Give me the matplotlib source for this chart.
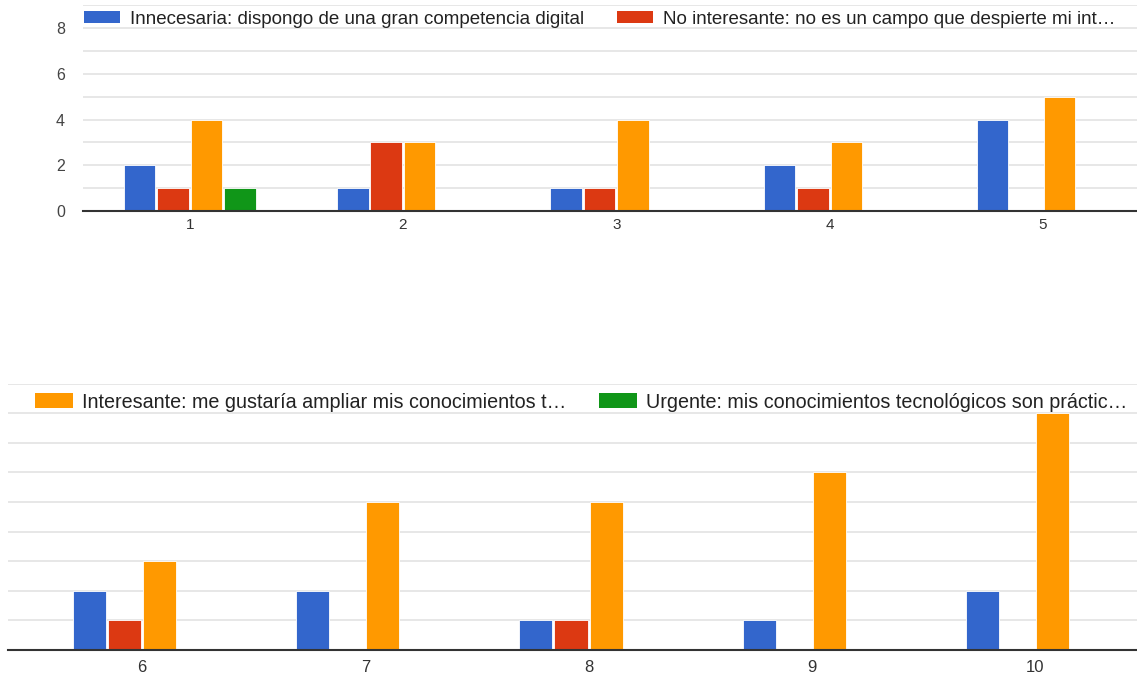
import matplotlib
matplotlib.use("Agg")
import matplotlib.pyplot as plt
import numpy as np

plt.rcParams['font.family'] = ['Liberation Sans', 'DejaVu Sans']

# Responses per rating (1-10) for each answer option
ratings = [1, 2, 3, 4, 5, 6, 7, 8, 9, 10]
series_names = [
    "Innecesaria: dispongo de una gran competencia digital",
    "No interesante: no es un campo que despierte mi int\u2026",
    "Interesante: me gustaría ampliar mis conocimientos t\u2026",
    "Urgente: mis conocimientos tecnológicos son práctic\u2026",
]
innecesaria = [2, 1, 1, 2, 4, 2, 2, 1, 1, 2]
no_interesante = [1, 3, 1, 1, 0, 1, 0, 1, 0, 0]
interesante = [4, 3, 4, 3, 5, 3, 5, 5, 6, 8]
urgente = [1, 0, 0, 0, 0, 0, 0, 0, 0, 0]

colors = ["#3366CC", "#DC3912", "#FF9900", "#109618"]
series = [innecesaria, no_interesante, interesante, urgente]

W, H = 1137, 676
fig = plt.figure(figsize=(W / 100, H / 100), dpi=100)

# panel geometry in pixels: (left, right, baseline, unit height, xlim)
panels = [
    dict(idx=slice(0, 5), left=83, right=1149.5, base=211, unit=22.875,
         xlim=(0.5, 5.5), yticklabels=True, xfs=11, xpad=5),
    dict(idx=slice(5, 10), left=8, right=1146.5, base=650, unit=29.6,
         xlim=(5.399, 10.5), yticklabels=False, xfs=12, xpad=7),
]

slot = 0.157
barw = 0.148
handles = []
axes = []
for p in panels:
    top_px = p['base'] - 9 * p['unit']
    ax = fig.add_axes([p['left'] / W, (H - p['base']) / H,
                       (p['right'] - p['left']) / W, (p['base'] - top_px) / H])
    axes.append(ax)
    cats = np.array(ratings[p['idx']])
    hs = []
    for k, (vals, col) in enumerate(zip(series, colors)):
        v = np.array(vals[p['idx']])
        x = cats + (k - 1.5) * slot
        m = v > 0
        ax.bar(x[m], v[m], width=barw, color=col, edgecolor='white',
               linewidth=0.6, zorder=3, label=series_names[k])
        hs.append(matplotlib.patches.Patch(facecolor=col, edgecolor='none'))
    handles.append(hs)
    ax.set_xlim(*p['xlim'])
    ax.set_ylim(0, 9)
    ax.set_yticks(range(0, 10))
    if p['yticklabels']:
        ax.set_yticklabels([str(i) if i % 2 == 0 and i <= 8 else "" for i in range(10)])
    else:
        ax.set_yticklabels([])
    ax.tick_params(axis='y', length=0, pad=13, labelsize=11.5, labelcolor='#444444')
    ax.set_xticks(cats)
    ax.set_xticklabels([str(c) for c in cats])
    ax.tick_params(axis='x', length=0, pad=p['xpad'], labelsize=p['xfs'],
                   labelcolor='#333333')
    ax.grid(axis='y', color='#e3e3e3', linewidth=1.2, zorder=0)
    for s in ['top', 'right', 'left']:
        ax.spines[s].set_visible(False)
    ax.spines['bottom'].set_color('#333333')
    ax.spines['bottom'].set_linewidth(1.5)
    ax.spines['bottom'].set_zorder(4)
    ax.set_facecolor('none')

axes[0].legend(handles[0][:2], series_names[:2], ncol=2, frameon=False,
               loc='center left', bbox_to_anchor=(84 / W, 1 - 19 / H),
               bbox_transform=fig.transFigure, fontsize=13.5,
               handlelength=1.92, handleheight=0.64, handletextpad=0.53,
               columnspacing=1.76, borderaxespad=0, borderpad=0,
               labelcolor='#222222')
axes[1].legend(handles[1][2:], series_names[2:], ncol=2, frameon=False,
               loc='center left', bbox_to_anchor=(35 / W, 1 - 402 / H),
               bbox_transform=fig.transFigure, fontsize=14.25,
               handlelength=1.92, handleheight=0.81, handletextpad=0.45,
               columnspacing=1.67, borderaxespad=0, borderpad=0,
               labelcolor='#222222')

fig.savefig("out.png", dpi=100)
